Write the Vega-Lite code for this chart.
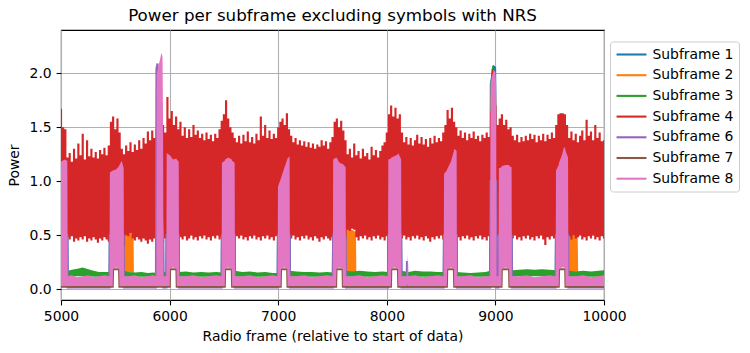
{
"$schema": "https://vega.github.io/schema/vega-lite/v6.json",
"width": 543, "height": 270,
"autosize": {"type": "none"},
"padding": {"left": 61, "top": 30, "right": 146, "bottom": 53},
"background": "white",
"title": {"text": "Power per subframe excluding symbols with NRS", "font": "DejaVu Sans", "fontSize": 16.7, "fontWeight": "normal", "anchor": "middle", "offset": 5, "color": "black"},
"datasets": {
"sf1": [{"x":5000,"y":0.6},{"x":5058,"y":0.6},{"x":5062,"y":0.06},{"x":5447,"y":0.06},{"x":5450,"y":0.6},{"x":5577,"y":0.6},{"x":5580,"y":0.06},{"x":5878,"y":0.06},{"x":5881,"y":0.6},{"x":5940,"y":0.6},{"x":5943,"y":0.06},{"x":5970,"y":0.06},{"x":5973,"y":0.6},{"x":6084,"y":0.6},{"x":6087,"y":0.06},{"x":6479,"y":0.06},{"x":6482,"y":0.6},{"x":6599,"y":0.6},{"x":6602,"y":0.06},{"x":6995,"y":0.06},{"x":6998,"y":0.6},{"x":7105,"y":0.6},{"x":7108,"y":0.06},{"x":7503,"y":0.06},{"x":7506,"y":0.6},{"x":7621,"y":0.6},{"x":7624,"y":0.06},{"x":8011,"y":0.06},{"x":8014,"y":0.6},{"x":8132,"y":0.6},{"x":8135,"y":0.06},{"x":8524,"y":0.06},{"x":8527,"y":0.6},{"x":8643,"y":0.6},{"x":8646,"y":0.06},{"x":8952,"y":0.06},{"x":8958,"y":1.9},{"x":8985,"y":2.06},{"x":8997,"y":2.05},{"x":9007,"y":1.0},{"x":9010,"y":0.06},{"x":9029,"y":0.06},{"x":9032,"y":0.6},{"x":9149,"y":0.6},{"x":9152,"y":0.06},{"x":9555,"y":0.06},{"x":9558,"y":0.6},{"x":9669,"y":0.6},{"x":9672,"y":0.06},{"x":10000,"y":0.06}],
"sf2": [{"x":5000,"y":0.3,"y2":0.9},{"x":5058,"y":0.3,"y2":0.9},{"x":5062,"y":0.05,"y2":0.1},{"x":5447,"y":0.05,"y2":0.1},{"x":5450,"y":0.3,"y2":0.9},{"x":5577,"y":0.3,"y2":0.9},{"x":5581,"y":0.15,"y2":0.52},{"x":5600,"y":0.16,"y2":0.53},{"x":5620,"y":0.15,"y2":0.51},{"x":5640,"y":0.16,"y2":0.53},{"x":5660,"y":0.15,"y2":0.5},{"x":5668,"y":0.15,"y2":0.5},{"x":5672,"y":0.05,"y2":0.1},{"x":5878,"y":0.05,"y2":0.1},{"x":5881,"y":0.3,"y2":0.9},{"x":5940,"y":0.3,"y2":0.9},{"x":5943,"y":0.05,"y2":0.1},{"x":5970,"y":0.05,"y2":0.1},{"x":5973,"y":0.3,"y2":0.9},{"x":6084,"y":0.3,"y2":0.9},{"x":6087,"y":0.05,"y2":0.1},{"x":6479,"y":0.05,"y2":0.1},{"x":6482,"y":0.3,"y2":0.9},{"x":6599,"y":0.3,"y2":0.9},{"x":6602,"y":0.05,"y2":0.1},{"x":6995,"y":0.05,"y2":0.1},{"x":6998,"y":0.3,"y2":0.85},{"x":7105,"y":0.3,"y2":0.9},{"x":7108,"y":0.05,"y2":0.1},{"x":7503,"y":0.05,"y2":0.1},{"x":7506,"y":0.3,"y2":0.9},{"x":7621,"y":0.3,"y2":0.9},{"x":7625,"y":0.15,"y2":0.55},{"x":7650,"y":0.16,"y2":0.56},{"x":7680,"y":0.15,"y2":0.55},{"x":7700,"y":0.16,"y2":0.54},{"x":7716,"y":0.15,"y2":0.53},{"x":7720,"y":0.05,"y2":0.1},{"x":8011,"y":0.05,"y2":0.1},{"x":8014,"y":0.3,"y2":0.9},{"x":8132,"y":0.3,"y2":0.9},{"x":8135,"y":0.05,"y2":0.1},{"x":8524,"y":0.05,"y2":0.1},{"x":8527,"y":0.3,"y2":0.9},{"x":8643,"y":0.3,"y2":0.9},{"x":8646,"y":0.05,"y2":0.1},{"x":8952,"y":0.05,"y2":0.1},{"x":8955,"y":0.3,"y2":1.8},{"x":9007,"y":0.3,"y2":1.8},{"x":9010,"y":0.05,"y2":0.1},{"x":9029,"y":0.05,"y2":0.1},{"x":9032,"y":0.3,"y2":0.9},{"x":9149,"y":0.3,"y2":0.9},{"x":9152,"y":0.05,"y2":0.1},{"x":9555,"y":0.05,"y2":0.1},{"x":9558,"y":0.3,"y2":0.9},{"x":9669,"y":0.3,"y2":0.9},{"x":9673,"y":0.15,"y2":0.5},{"x":9700,"y":0.16,"y2":0.51},{"x":9730,"y":0.15,"y2":0.5},{"x":9758,"y":0.15,"y2":0.49},{"x":9763,"y":0.05,"y2":0.1},{"x":10000,"y":0.05,"y2":0.1}],
"sf3": [{"x":5000,"y":0.3,"y2":0.9},{"x":5058,"y":0.3,"y2":0.9},{"x":5062,"y":0.115,"y2":0.17},{"x":5100,"y":0.12,"y2":0.18},{"x":5150,"y":0.12,"y2":0.19},{"x":5200,"y":0.12,"y2":0.2},{"x":5250,"y":0.12,"y2":0.185},{"x":5300,"y":0.115,"y2":0.17},{"x":5350,"y":0.115,"y2":0.16},{"x":5400,"y":0.115,"y2":0.16},{"x":5447,"y":0.115,"y2":0.16},{"x":5450,"y":0.3,"y2":0.9},{"x":5577,"y":0.3,"y2":0.9},{"x":5580,"y":0.115,"y2":0.17},{"x":5620,"y":0.115,"y2":0.16},{"x":5680,"y":0.115,"y2":0.155},{"x":5740,"y":0.115,"y2":0.16},{"x":5800,"y":0.115,"y2":0.15},{"x":5850,"y":0.115,"y2":0.155},{"x":5878,"y":0.115,"y2":0.15},{"x":5881,"y":0.3,"y2":0.9},{"x":5940,"y":0.3,"y2":0.9},{"x":5943,"y":0.115,"y2":0.16},{"x":5970,"y":0.115,"y2":0.16},{"x":5973,"y":0.3,"y2":0.9},{"x":6084,"y":0.3,"y2":0.9},{"x":6087,"y":0.115,"y2":0.16},{"x":6150,"y":0.115,"y2":0.165},{"x":6220,"y":0.115,"y2":0.155},{"x":6290,"y":0.115,"y2":0.16},{"x":6360,"y":0.115,"y2":0.155},{"x":6430,"y":0.115,"y2":0.16},{"x":6479,"y":0.115,"y2":0.155},{"x":6482,"y":0.3,"y2":0.9},{"x":6599,"y":0.3,"y2":0.9},{"x":6602,"y":0.115,"y2":0.17},{"x":6670,"y":0.115,"y2":0.16},{"x":6740,"y":0.115,"y2":0.165},{"x":6810,"y":0.115,"y2":0.155},{"x":6880,"y":0.115,"y2":0.16},{"x":6950,"y":0.115,"y2":0.15},{"x":6995,"y":0.115,"y2":0.15},{"x":6998,"y":0.3,"y2":0.85},{"x":7105,"y":0.3,"y2":0.9},{"x":7108,"y":0.115,"y2":0.17},{"x":7170,"y":0.115,"y2":0.165},{"x":7240,"y":0.115,"y2":0.16},{"x":7310,"y":0.115,"y2":0.16},{"x":7380,"y":0.115,"y2":0.155},{"x":7450,"y":0.115,"y2":0.16},{"x":7503,"y":0.115,"y2":0.155},{"x":7506,"y":0.3,"y2":0.9},{"x":7621,"y":0.3,"y2":0.9},{"x":7624,"y":0.115,"y2":0.17},{"x":7680,"y":0.115,"y2":0.165},{"x":7750,"y":0.115,"y2":0.17},{"x":7820,"y":0.115,"y2":0.165},{"x":7890,"y":0.115,"y2":0.16},{"x":7960,"y":0.115,"y2":0.165},{"x":8011,"y":0.115,"y2":0.16},{"x":8014,"y":0.3,"y2":0.9},{"x":8132,"y":0.3,"y2":0.9},{"x":8135,"y":0.115,"y2":0.17},{"x":8200,"y":0.115,"y2":0.16},{"x":8260,"y":0.115,"y2":0.17},{"x":8330,"y":0.115,"y2":0.165},{"x":8400,"y":0.115,"y2":0.165},{"x":8470,"y":0.115,"y2":0.16},{"x":8524,"y":0.115,"y2":0.16},{"x":8527,"y":0.3,"y2":0.9},{"x":8643,"y":0.3,"y2":0.9},{"x":8646,"y":0.115,"y2":0.16},{"x":8700,"y":0.115,"y2":0.155},{"x":8770,"y":0.115,"y2":0.15},{"x":8840,"y":0.115,"y2":0.155},{"x":8910,"y":0.115,"y2":0.16},{"x":8952,"y":0.115,"y2":0.17},{"x":8955,"y":0.3,"y2":1.9},{"x":8970,"y":0.3,"y2":2.07},{"x":8980,"y":0.3,"y2":2.07},{"x":8990,"y":0.3,"y2":1.9},{"x":9007,"y":0.3,"y2":0.9},{"x":9010,"y":0.115,"y2":0.17},{"x":9029,"y":0.115,"y2":0.17},{"x":9032,"y":0.3,"y2":0.9},{"x":9149,"y":0.3,"y2":0.9},{"x":9152,"y":0.115,"y2":0.175},{"x":9220,"y":0.12,"y2":0.18},{"x":9290,"y":0.12,"y2":0.185},{"x":9360,"y":0.12,"y2":0.18},{"x":9430,"y":0.12,"y2":0.185},{"x":9500,"y":0.12,"y2":0.18},{"x":9555,"y":0.115,"y2":0.175},{"x":9558,"y":0.3,"y2":0.9},{"x":9669,"y":0.3,"y2":0.9},{"x":9672,"y":0.115,"y2":0.17},{"x":9740,"y":0.115,"y2":0.165},{"x":9810,"y":0.115,"y2":0.17},{"x":9880,"y":0.115,"y2":0.165},{"x":9950,"y":0.115,"y2":0.17},{"x":10000,"y":0.115,"y2":0.175}],
"sf4": [{"x":5000,"y":0.50,"y2":1.67},{"x":5020,"y":0.47,"y2":1.50},{"x":5040,"y":0.45,"y2":1.48},{"x":5060,"y":0.48,"y2":1.22},{"x":5080,"y":0.46,"y2":1.26},{"x":5100,"y":0.49,"y2":1.18},{"x":5120,"y":0.44,"y2":1.30},{"x":5140,"y":0.47,"y2":1.21},{"x":5160,"y":0.45,"y2":1.35},{"x":5180,"y":0.48,"y2":1.24},{"x":5200,"y":0.46,"y2":1.44},{"x":5220,"y":0.49,"y2":1.20},{"x":5240,"y":0.44,"y2":1.38},{"x":5260,"y":0.47,"y2":1.23},{"x":5280,"y":0.45,"y2":1.30},{"x":5300,"y":0.48,"y2":1.22},{"x":5320,"y":0.46,"y2":1.27},{"x":5340,"y":0.43,"y2":1.21},{"x":5360,"y":0.47,"y2":1.29},{"x":5380,"y":0.45,"y2":1.25},{"x":5400,"y":0.48,"y2":1.31},{"x":5420,"y":0.46,"y2":1.24},{"x":5440,"y":0.44,"y2":1.33},{"x":5460,"y":0.47,"y2":1.55},{"x":5480,"y":0.45,"y2":1.60},{"x":5500,"y":0.48,"y2":1.48},{"x":5520,"y":0.46,"y2":1.58},{"x":5540,"y":0.49,"y2":1.45},{"x":5560,"y":0.44,"y2":1.30},{"x":5580,"y":0.40,"y2":1.25},{"x":5600,"y":0.50,"y2":1.33},{"x":5620,"y":0.49,"y2":1.28},{"x":5640,"y":0.52,"y2":1.36},{"x":5660,"y":0.47,"y2":1.27},{"x":5680,"y":0.45,"y2":1.34},{"x":5700,"y":0.48,"y2":1.29},{"x":5720,"y":0.46,"y2":1.38},{"x":5740,"y":0.44,"y2":1.30},{"x":5760,"y":0.47,"y2":1.40},{"x":5780,"y":0.45,"y2":1.35},{"x":5800,"y":0.42,"y2":1.46},{"x":5820,"y":0.46,"y2":1.38},{"x":5840,"y":0.44,"y2":1.47},{"x":5860,"y":0.47,"y2":1.40},{"x":5880,"y":0.45,"y2":1.48},{"x":5900,"y":0.44,"y2":1.50},{"x":5920,"y":0.46,"y2":1.40},{"x":5940,"y":0.43,"y2":1.52},{"x":5960,"y":0.47,"y2":1.45},{"x":5980,"y":0.45,"y2":1.78},{"x":6000,"y":0.48,"y2":1.58},{"x":6020,"y":0.46,"y2":1.65},{"x":6040,"y":0.44,"y2":1.52},{"x":6060,"y":0.47,"y2":1.60},{"x":6080,"y":0.45,"y2":1.48},{"x":6100,"y":0.48,"y2":1.55},{"x":6120,"y":0.46,"y2":1.42},{"x":6140,"y":0.49,"y2":1.50},{"x":6160,"y":0.45,"y2":1.40},{"x":6180,"y":0.47,"y2":1.48},{"x":6200,"y":0.50,"y2":1.41},{"x":6220,"y":0.46,"y2":1.52},{"x":6240,"y":0.48,"y2":1.43},{"x":6260,"y":0.45,"y2":1.47},{"x":6280,"y":0.49,"y2":1.40},{"x":6300,"y":0.47,"y2":1.44},{"x":6320,"y":0.50,"y2":1.38},{"x":6340,"y":0.46,"y2":1.45},{"x":6360,"y":0.48,"y2":1.39},{"x":6380,"y":0.45,"y2":1.43},{"x":6400,"y":0.49,"y2":1.37},{"x":6420,"y":0.47,"y2":1.44},{"x":6440,"y":0.50,"y2":1.40},{"x":6460,"y":0.46,"y2":1.48},{"x":6480,"y":0.48,"y2":1.56},{"x":6500,"y":0.45,"y2":1.62},{"x":6520,"y":0.47,"y2":1.75},{"x":6540,"y":0.49,"y2":1.58},{"x":6560,"y":0.46,"y2":1.50},{"x":6580,"y":0.48,"y2":1.45},{"x":6600,"y":0.45,"y2":1.40},{"x":6620,"y":0.49,"y2":1.36},{"x":6640,"y":0.47,"y2":1.42},{"x":6660,"y":0.50,"y2":1.35},{"x":6680,"y":0.46,"y2":1.43},{"x":6700,"y":0.48,"y2":1.37},{"x":6720,"y":0.45,"y2":1.46},{"x":6740,"y":0.49,"y2":1.36},{"x":6760,"y":0.47,"y2":1.41},{"x":6780,"y":0.50,"y2":1.35},{"x":6800,"y":0.46,"y2":1.44},{"x":6820,"y":0.48,"y2":1.38},{"x":6840,"y":0.45,"y2":1.60},{"x":6860,"y":0.49,"y2":1.42},{"x":6880,"y":0.47,"y2":1.52},{"x":6900,"y":0.50,"y2":1.40},{"x":6920,"y":0.46,"y2":1.47},{"x":6940,"y":0.48,"y2":1.39},{"x":6960,"y":0.45,"y2":1.44},{"x":6980,"y":0.49,"y2":1.40},{"x":7000,"y":0.47,"y2":1.50},{"x":7020,"y":0.50,"y2":1.55},{"x":7040,"y":0.46,"y2":1.58},{"x":7060,"y":0.48,"y2":1.52},{"x":7080,"y":0.45,"y2":1.63},{"x":7100,"y":0.49,"y2":1.48},{"x":7120,"y":0.47,"y2":1.42},{"x":7140,"y":0.50,"y2":1.36},{"x":7160,"y":0.46,"y2":1.40},{"x":7180,"y":0.48,"y2":1.34},{"x":7200,"y":0.45,"y2":1.38},{"x":7220,"y":0.49,"y2":1.33},{"x":7240,"y":0.47,"y2":1.37},{"x":7260,"y":0.50,"y2":1.32},{"x":7280,"y":0.46,"y2":1.36},{"x":7300,"y":0.48,"y2":1.31},{"x":7320,"y":0.45,"y2":1.35},{"x":7340,"y":0.49,"y2":1.30},{"x":7360,"y":0.47,"y2":1.34},{"x":7380,"y":0.44,"y2":1.32},{"x":7400,"y":0.48,"y2":1.38},{"x":7420,"y":0.46,"y2":1.33},{"x":7440,"y":0.49,"y2":1.37},{"x":7460,"y":0.47,"y2":1.30},{"x":7480,"y":0.45,"y2":1.36},{"x":7500,"y":0.48,"y2":1.41},{"x":7520,"y":0.46,"y2":1.55},{"x":7540,"y":0.49,"y2":1.58},{"x":7560,"y":0.47,"y2":1.50},{"x":7580,"y":0.45,"y2":1.56},{"x":7600,"y":0.48,"y2":1.47},{"x":7620,"y":0.46,"y2":1.38},{"x":7640,"y":0.55,"y2":1.25},{"x":7660,"y":0.54,"y2":1.30},{"x":7680,"y":0.56,"y2":1.22},{"x":7700,"y":0.55,"y2":1.35},{"x":7720,"y":0.48,"y2":1.24},{"x":7740,"y":0.45,"y2":1.28},{"x":7760,"y":0.49,"y2":1.21},{"x":7780,"y":0.47,"y2":1.30},{"x":7800,"y":0.50,"y2":1.23},{"x":7820,"y":0.46,"y2":1.26},{"x":7840,"y":0.48,"y2":1.20},{"x":7860,"y":0.45,"y2":1.32},{"x":7880,"y":0.49,"y2":1.24},{"x":7900,"y":0.47,"y2":1.29},{"x":7920,"y":0.50,"y2":1.22},{"x":7940,"y":0.46,"y2":1.28},{"x":7960,"y":0.48,"y2":1.33},{"x":7980,"y":0.45,"y2":1.36},{"x":8000,"y":0.49,"y2":1.45},{"x":8020,"y":0.47,"y2":1.62},{"x":8040,"y":0.50,"y2":1.70},{"x":8060,"y":0.46,"y2":1.60},{"x":8080,"y":0.48,"y2":1.68},{"x":8100,"y":0.45,"y2":1.58},{"x":8120,"y":0.49,"y2":1.62},{"x":8140,"y":0.47,"y2":1.45},{"x":8160,"y":0.50,"y2":1.36},{"x":8180,"y":0.46,"y2":1.41},{"x":8200,"y":0.48,"y2":1.34},{"x":8220,"y":0.45,"y2":1.40},{"x":8240,"y":0.49,"y2":1.33},{"x":8260,"y":0.47,"y2":1.38},{"x":8280,"y":0.50,"y2":1.43},{"x":8300,"y":0.46,"y2":1.35},{"x":8320,"y":0.48,"y2":1.41},{"x":8340,"y":0.45,"y2":1.34},{"x":8360,"y":0.49,"y2":1.39},{"x":8380,"y":0.47,"y2":1.32},{"x":8400,"y":0.44,"y2":1.40},{"x":8420,"y":0.48,"y2":1.35},{"x":8440,"y":0.46,"y2":1.42},{"x":8460,"y":0.49,"y2":1.36},{"x":8480,"y":0.47,"y2":1.40},{"x":8500,"y":0.50,"y2":1.37},{"x":8520,"y":0.46,"y2":1.45},{"x":8540,"y":0.48,"y2":1.52},{"x":8560,"y":0.45,"y2":1.66},{"x":8580,"y":0.49,"y2":1.58},{"x":8600,"y":0.47,"y2":1.68},{"x":8620,"y":0.50,"y2":1.55},{"x":8640,"y":0.46,"y2":1.50},{"x":8660,"y":0.48,"y2":1.42},{"x":8680,"y":0.45,"y2":1.47},{"x":8700,"y":0.49,"y2":1.40},{"x":8720,"y":0.47,"y2":1.45},{"x":8740,"y":0.50,"y2":1.38},{"x":8760,"y":0.46,"y2":1.44},{"x":8780,"y":0.48,"y2":1.40},{"x":8800,"y":0.45,"y2":1.46},{"x":8820,"y":0.49,"y2":1.39},{"x":8840,"y":0.47,"y2":1.42},{"x":8860,"y":0.50,"y2":1.37},{"x":8880,"y":0.46,"y2":1.43},{"x":8900,"y":0.48,"y2":1.40},{"x":8920,"y":0.45,"y2":1.45},{"x":8940,"y":0.49,"y2":1.41},{"x":8960,"y":0.47,"y2":1.65},{"x":8970,"y":0.48,"y2":2.04},{"x":8980,"y":0.46,"y2":2.02},{"x":9000,"y":0.46,"y2":1.70},{"x":9020,"y":0.49,"y2":1.52},{"x":9040,"y":0.47,"y2":1.58},{"x":9060,"y":0.50,"y2":1.62},{"x":9080,"y":0.46,"y2":1.52},{"x":9100,"y":0.48,"y2":1.57},{"x":9120,"y":0.45,"y2":1.48},{"x":9140,"y":0.49,"y2":1.50},{"x":9160,"y":0.47,"y2":1.42},{"x":9180,"y":0.50,"y2":1.38},{"x":9200,"y":0.46,"y2":1.43},{"x":9220,"y":0.48,"y2":1.36},{"x":9240,"y":0.45,"y2":1.41},{"x":9260,"y":0.49,"y2":1.37},{"x":9280,"y":0.47,"y2":1.42},{"x":9300,"y":0.50,"y2":1.38},{"x":9320,"y":0.46,"y2":1.44},{"x":9340,"y":0.48,"y2":1.39},{"x":9360,"y":0.45,"y2":1.43},{"x":9380,"y":0.49,"y2":1.36},{"x":9400,"y":0.47,"y2":1.42},{"x":9420,"y":0.50,"y2":1.38},{"x":9440,"y":0.46,"y2":1.44},{"x":9460,"y":0.41,"y2":1.37},{"x":9480,"y":0.48,"y2":1.43},{"x":9500,"y":0.46,"y2":1.39},{"x":9520,"y":0.49,"y2":1.45},{"x":9540,"y":0.47,"y2":1.40},{"x":9560,"y":0.50,"y2":1.52},{"x":9580,"y":0.46,"y2":1.62},{"x":9600,"y":0.48,"y2":1.63},{"x":9620,"y":0.45,"y2":1.63},{"x":9640,"y":0.49,"y2":1.62},{"x":9660,"y":0.47,"y2":1.52},{"x":9680,"y":0.49,"y2":1.40},{"x":9700,"y":0.46,"y2":1.46},{"x":9720,"y":0.50,"y2":1.38},{"x":9740,"y":0.47,"y2":1.44},{"x":9760,"y":0.48,"y2":1.36},{"x":9780,"y":0.50,"y2":1.42},{"x":9800,"y":0.46,"y2":1.47},{"x":9820,"y":0.48,"y2":1.38},{"x":9840,"y":0.45,"y2":1.57},{"x":9860,"y":0.49,"y2":1.42},{"x":9880,"y":0.47,"y2":1.46},{"x":9900,"y":0.50,"y2":1.38},{"x":9920,"y":0.46,"y2":1.52},{"x":9940,"y":0.48,"y2":1.40},{"x":9960,"y":0.45,"y2":1.45},{"x":9980,"y":0.49,"y2":1.37},{"x":10000,"y":0.47,"y2":1.38}],
"sf6": [{"x":5000,"y":0.5},{"x":5058,"y":0.5},{"x":5062,"y":0.016},{"x":5447,"y":0.016},{"x":5450,"y":0.5},{"x":5577,"y":0.5},{"x":5580,"y":0.016},{"x":5874,"y":0.016},{"x":5879,"y":2.04},{"x":5889,"y":2.09},{"x":5900,"y":1.2},{"x":5940,"y":0.5},{"x":5943,"y":0.016},{"x":5970,"y":0.016},{"x":5973,"y":0.5},{"x":6084,"y":0.5},{"x":6087,"y":0.016},{"x":6479,"y":0.016},{"x":6482,"y":0.5},{"x":6599,"y":0.5},{"x":6602,"y":0.016},{"x":6995,"y":0.016},{"x":6998,"y":0.5},{"x":7105,"y":0.5},{"x":7108,"y":0.016},{"x":7503,"y":0.016},{"x":7506,"y":0.5},{"x":7621,"y":0.5},{"x":7624,"y":0.016},{"x":8011,"y":0.016},{"x":8014,"y":0.5},{"x":8132,"y":0.5},{"x":8135,"y":0.016},{"x":8182,"y":0.016},{"x":8186,"y":0.26},{"x":8190,"y":0.016},{"x":8524,"y":0.016},{"x":8527,"y":0.5},{"x":8643,"y":0.5},{"x":8646,"y":0.016},{"x":8952,"y":0.016},{"x":8955,"y":1.0},{"x":9007,"y":1.0},{"x":9010,"y":0.016},{"x":9029,"y":0.016},{"x":9032,"y":0.5},{"x":9149,"y":0.5},{"x":9152,"y":0.016},{"x":9555,"y":0.016},{"x":9558,"y":0.5},{"x":9669,"y":0.5},{"x":9672,"y":0.016},{"x":10000,"y":0.016}],
"sf7": [{"x":5000,"y":0.022},{"x":5476,"y":0.022},{"x":5479,"y":0.185},{"x":5535,"y":0.185},{"x":5538,"y":0.022},{"x":6001,"y":0.022},{"x":6004,"y":0.185},{"x":6063,"y":0.185},{"x":6066,"y":0.022},{"x":6508,"y":0.022},{"x":6511,"y":0.185},{"x":6573,"y":0.185},{"x":6576,"y":0.022},{"x":7023,"y":0.022},{"x":7026,"y":0.185},{"x":7083,"y":0.185},{"x":7086,"y":0.022},{"x":7533,"y":0.022},{"x":7536,"y":0.185},{"x":7593,"y":0.185},{"x":7596,"y":0.022},{"x":8038,"y":0.022},{"x":8041,"y":0.185},{"x":8103,"y":0.185},{"x":8106,"y":0.022},{"x":8553,"y":0.022},{"x":8556,"y":0.185},{"x":8618,"y":0.185},{"x":8621,"y":0.022},{"x":9056,"y":0.022},{"x":9059,"y":0.185},{"x":9126,"y":0.185},{"x":9129,"y":0.022},{"x":9583,"y":0.022},{"x":9586,"y":0.185},{"x":9643,"y":0.185},{"x":9646,"y":0.022},{"x":10000,"y":0.022}],
"sf8": [{"x":5000,"y":0.03,"y2":1.18},{"x":5030,"y":0.03,"y2":1.2},{"x":5058,"y":0.03,"y2":1.19},{"x":5062,"y":0.03,"y2":0.12},{"x":5100,"y":0.03,"y2":0.13},{"x":5150,"y":0.03,"y2":0.11},{"x":5200,"y":0.03,"y2":0.12},{"x":5250,"y":0.03,"y2":0.13},{"x":5300,"y":0.03,"y2":0.11},{"x":5350,"y":0.03,"y2":0.12},{"x":5400,"y":0.03,"y2":0.13},{"x":5447,"y":0.03,"y2":0.12},{"x":5450,"y":0.03,"y2":1.08},{"x":5476,"y":0.03,"y2":1.1},{"x":5479,"y":0.19,"y2":1.1},{"x":5510,"y":0.2,"y2":1.11},{"x":5535,"y":0.19,"y2":1.14},{"x":5538,"y":0.03,"y2":1.15},{"x":5560,"y":0.03,"y2":1.19},{"x":5577,"y":0.03,"y2":1.12},{"x":5580,"y":0.03,"y2":0.12},{"x":5620,"y":0.03,"y2":0.12},{"x":5680,"y":0.03,"y2":0.13},{"x":5740,"y":0.03,"y2":0.11},{"x":5800,"y":0.03,"y2":0.12},{"x":5850,"y":0.03,"y2":0.13},{"x":5878,"y":0.03,"y2":0.12},{"x":5881,"y":0.03,"y2":1.98},{"x":5895,"y":0.03,"y2":2.06},{"x":5910,"y":0.03,"y2":2.12},{"x":5925,"y":0.03,"y2":2.19},{"x":5935,"y":0.03,"y2":2.15},{"x":5940,"y":0.03,"y2":1.5},{"x":5943,"y":0.03,"y2":0.12},{"x":5970,"y":0.03,"y2":0.12},{"x":5973,"y":0.03,"y2":1.26},{"x":6001,"y":0.03,"y2":1.24},{"x":6004,"y":0.19,"y2":1.24},{"x":6030,"y":0.2,"y2":1.2},{"x":6063,"y":0.19,"y2":1.21},{"x":6066,"y":0.03,"y2":1.2},{"x":6084,"y":0.03,"y2":1.18},{"x":6087,"y":0.03,"y2":0.12},{"x":6150,"y":0.03,"y2":0.12},{"x":6220,"y":0.03,"y2":0.13},{"x":6290,"y":0.03,"y2":0.11},{"x":6360,"y":0.03,"y2":0.12},{"x":6430,"y":0.03,"y2":0.13},{"x":6479,"y":0.03,"y2":0.12},{"x":6482,"y":0.03,"y2":1.17},{"x":6508,"y":0.03,"y2":1.19},{"x":6511,"y":0.19,"y2":1.2},{"x":6540,"y":0.2,"y2":1.22},{"x":6573,"y":0.19,"y2":1.2},{"x":6576,"y":0.03,"y2":1.19},{"x":6599,"y":0.03,"y2":1.17},{"x":6602,"y":0.03,"y2":0.12},{"x":6670,"y":0.03,"y2":0.12},{"x":6740,"y":0.03,"y2":0.13},{"x":6810,"y":0.03,"y2":0.11},{"x":6880,"y":0.03,"y2":0.12},{"x":6950,"y":0.03,"y2":0.13},{"x":6995,"y":0.03,"y2":0.12},{"x":6998,"y":0.03,"y2":0.95},{"x":7023,"y":0.03,"y2":1.02},{"x":7026,"y":0.19,"y2":1.03},{"x":7055,"y":0.2,"y2":1.12},{"x":7083,"y":0.19,"y2":1.2},{"x":7086,"y":0.03,"y2":1.21},{"x":7105,"y":0.03,"y2":1.23},{"x":7108,"y":0.03,"y2":0.12},{"x":7170,"y":0.03,"y2":0.12},{"x":7240,"y":0.03,"y2":0.13},{"x":7310,"y":0.03,"y2":0.11},{"x":7380,"y":0.03,"y2":0.12},{"x":7450,"y":0.03,"y2":0.13},{"x":7503,"y":0.03,"y2":0.12},{"x":7506,"y":0.03,"y2":1.2},{"x":7533,"y":0.03,"y2":1.22},{"x":7536,"y":0.19,"y2":1.22},{"x":7565,"y":0.2,"y2":1.17},{"x":7593,"y":0.19,"y2":1.16},{"x":7596,"y":0.03,"y2":1.16},{"x":7621,"y":0.03,"y2":1.13},{"x":7624,"y":0.03,"y2":0.12},{"x":7680,"y":0.03,"y2":0.12},{"x":7750,"y":0.03,"y2":0.13},{"x":7820,"y":0.03,"y2":0.11},{"x":7890,"y":0.03,"y2":0.12},{"x":7960,"y":0.03,"y2":0.13},{"x":8011,"y":0.03,"y2":0.12},{"x":8014,"y":0.03,"y2":1.2},{"x":8038,"y":0.03,"y2":1.21},{"x":8041,"y":0.19,"y2":1.22},{"x":8070,"y":0.2,"y2":1.23},{"x":8103,"y":0.19,"y2":1.25},{"x":8106,"y":0.03,"y2":1.26},{"x":8132,"y":0.03,"y2":1.2},{"x":8135,"y":0.03,"y2":0.12},{"x":8160,"y":0.03,"y2":0.12},{"x":8188,"y":0.03,"y2":0.12},{"x":8193,"y":0.05,"y2":0.33},{"x":8198,"y":0.03,"y2":0.12},{"x":8260,"y":0.03,"y2":0.13},{"x":8330,"y":0.03,"y2":0.11},{"x":8400,"y":0.03,"y2":0.12},{"x":8470,"y":0.03,"y2":0.13},{"x":8524,"y":0.03,"y2":0.12},{"x":8527,"y":0.03,"y2":1.07},{"x":8553,"y":0.03,"y2":1.1},{"x":8556,"y":0.19,"y2":1.11},{"x":8590,"y":0.2,"y2":1.18},{"x":8618,"y":0.19,"y2":1.28},{"x":8621,"y":0.03,"y2":1.3},{"x":8643,"y":0.03,"y2":1.28},{"x":8646,"y":0.03,"y2":0.12},{"x":8700,"y":0.03,"y2":0.12},{"x":8770,"y":0.03,"y2":0.13},{"x":8840,"y":0.03,"y2":0.11},{"x":8910,"y":0.03,"y2":0.12},{"x":8952,"y":0.03,"y2":0.12},{"x":8955,"y":0.03,"y2":1.9},{"x":8968,"y":0.03,"y2":1.97},{"x":8985,"y":0.03,"y2":2.03},{"x":9000,"y":0.03,"y2":2.01},{"x":9007,"y":0.03,"y2":1.9},{"x":9010,"y":0.03,"y2":0.12},{"x":9029,"y":0.03,"y2":0.12},{"x":9032,"y":0.03,"y2":1.12},{"x":9056,"y":0.03,"y2":1.13},{"x":9059,"y":0.19,"y2":1.14},{"x":9095,"y":0.2,"y2":1.15},{"x":9126,"y":0.19,"y2":1.15},{"x":9129,"y":0.03,"y2":1.14},{"x":9149,"y":0.03,"y2":1.13},{"x":9152,"y":0.03,"y2":0.12},{"x":9220,"y":0.03,"y2":0.12},{"x":9290,"y":0.03,"y2":0.13},{"x":9360,"y":0.03,"y2":0.11},{"x":9430,"y":0.03,"y2":0.12},{"x":9500,"y":0.03,"y2":0.13},{"x":9555,"y":0.03,"y2":0.12},{"x":9558,"y":0.03,"y2":1.1},{"x":9583,"y":0.03,"y2":1.15},{"x":9586,"y":0.19,"y2":1.17},{"x":9615,"y":0.2,"y2":1.25},{"x":9632,"y":0.2,"y2":1.32},{"x":9643,"y":0.19,"y2":1.3},{"x":9646,"y":0.03,"y2":1.28},{"x":9669,"y":0.03,"y2":1.22},{"x":9672,"y":0.03,"y2":0.12},{"x":9740,"y":0.03,"y2":0.12},{"x":9810,"y":0.03,"y2":0.13},{"x":9880,"y":0.03,"y2":0.11},{"x":9950,"y":0.03,"y2":0.12},{"x":10000,"y":0.03,"y2":0.13}]
},
"encoding": {
  "x": {"field": "x", "type": "quantitative", "scale": {"domain": [5000, 10000], "nice": false, "zero": false}, "axis": {"title": "Radio frame (relative to start of data)", "values": [5000, 6000, 7000, 8000, 9000, 10000], "format": "d"}},
  "y": {"field": "y", "type": "quantitative", "scale": {"domain": [-0.1, 2.4], "nice": false, "zero": false}, "axis": {"title": "Power", "values": [0, 0.5, 1, 1.5, 2], "format": ".1f"}}
},
"layer": [
  {"data": {"name": "sf1"}, "mark": {"type": "line", "strokeWidth": 2.1},
   "encoding": {"color": {"datum": "Subframe 1", "type": "nominal",
     "scale": {"domain": ["Subframe 1", "Subframe 2", "Subframe 3", "Subframe 4", "Subframe 6", "Subframe 7", "Subframe 8"], "range": ["#1f77b4", "#ff7f0e", "#2ca02c", "#d62728", "#9467bd", "#8c564b", "#e377c2"]},
     "legend": {"title": null, "encode": {"symbols": {"update": {"stroke": {"scale": "color", "field": "value"}, "strokeWidth": {"value": 2.1}, "fill": {"value": "transparent"}, "opacity": {"value": 1}}}}}}}},
  {"data": {"name": "sf2"}, "mark": {"type": "area"}, "encoding": {"y2": {"field": "y2"}, "color": {"datum": "Subframe 2", "type": "nominal"}}},
  {"data": {"name": "sf3"}, "mark": {"type": "area"}, "encoding": {"y2": {"field": "y2"}, "color": {"datum": "Subframe 3", "type": "nominal"}}},
  {"data": {"name": "sf4"}, "mark": {"type": "area", "interpolate": "step"}, "encoding": {"y2": {"field": "y2"}, "color": {"datum": "Subframe 4", "type": "nominal"}}},
  {"data": {"name": "sf6"}, "mark": {"type": "line", "strokeWidth": 2.1}, "encoding": {"color": {"datum": "Subframe 6", "type": "nominal"}}},
  {"data": {"name": "sf7"}, "mark": {"type": "line", "strokeWidth": 2.1}, "encoding": {"color": {"datum": "Subframe 7", "type": "nominal"}}},
  {"data": {"name": "sf8"}, "mark": {"type": "area"}, "encoding": {"y2": {"field": "y2"}, "color": {"datum": "Subframe 8", "type": "nominal"}}}
],
"config": {
  "font": "DejaVu Sans",
  "view": {"stroke": "black", "strokeWidth": 1.1},
  "axis": {"labelFont": "DejaVu Sans", "labelFontSize": 13.9, "labelColor": "black", "titleFont": "DejaVu Sans", "titleFontSize": 13.9, "titleFontWeight": "normal", "titleColor": "black", "tickColor": "black", "tickSize": 4.9, "tickWidth": 1.1, "domain": false, "grid": true, "gridColor": "#b0b0b0", "gridWidth": 1.1, "labelPadding": 4.9, "labelFlush": false, "labelOverlap": false},
  "axisX": {"titlePadding": 6},
  "axisY": {"titlePadding": 8},
  "legend": {"orient": "none", "legendX": 549, "legendY": 11.5, "labelFont": "DejaVu Sans", "labelFontSize": 13.9, "labelColor": "black", "symbolType": "M-2.3,0H2.3", "symbolSize": 169, "symbolStrokeWidth": 2.1, "symbolOffset": 8.5, "labelOffset": 13, "rowPadding": 5.7, "padding": 5, "strokeColor": "#cccccc", "fillColor": "white", "cornerRadius": 3}
}
}
